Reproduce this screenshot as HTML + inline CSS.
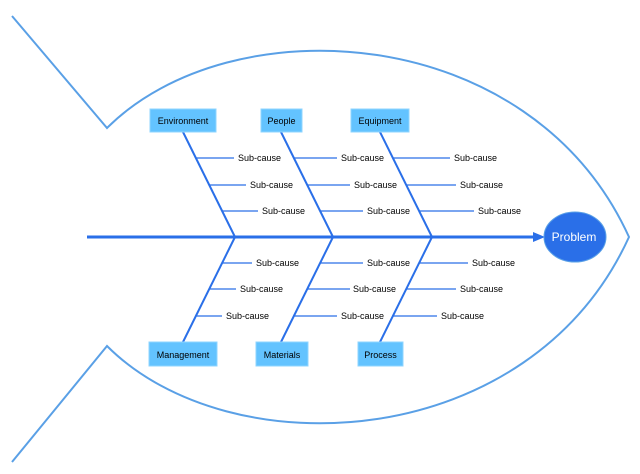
<!DOCTYPE html>
<html><head><meta charset="utf-8"><style>
html,body{margin:0;padding:0;background:#fff;width:640px;height:474px;overflow:hidden}
text{font-family:"Liberation Sans",sans-serif;font-size:9px;fill:#000}
</style></head><body>
<svg width="640" height="474" viewBox="0 0 640 474" xmlns="http://www.w3.org/2000/svg">
<g fill="none" stroke="#5aa0e6" stroke-width="2">
<path d="M12,16 L107,128 C230,5 530,20 629,237 C530,454 230,469 107,346 L12,462"/>
</g>
<g stroke="#2a6fe8" stroke-width="3" fill="none">
<line x1="87" y1="237" x2="535" y2="237"/>
</g>
<polygon points="533,232 545,237 533,242" fill="#2a6fe8"/>
<g stroke="#2a6fe8" stroke-width="2" fill="none">
<line x1="183" y1="132" x2="235" y2="237"/>
<line x1="281" y1="132" x2="333" y2="237"/>
<line x1="380" y1="132" x2="432" y2="237"/>
<line x1="235" y1="237" x2="183" y2="342"/>
<line x1="333" y1="237" x2="281" y2="342"/>
<line x1="432" y1="237" x2="380" y2="342"/>
</g>
<g stroke="#2a6fe8" stroke-width="1.2" fill="none">
<line x1="196" y1="158" x2="234" y2="158"/>
<line x1="209" y1="185" x2="246" y2="185"/>
<line x1="222" y1="211" x2="258" y2="211"/>
<line x1="294" y1="158" x2="337" y2="158"/>
<line x1="307" y1="185" x2="350" y2="185"/>
<line x1="320" y1="211" x2="363" y2="211"/>
<line x1="393" y1="158" x2="450" y2="158"/>
<line x1="406" y1="185" x2="456" y2="185"/>
<line x1="419" y1="211" x2="474" y2="211"/>
<line x1="222" y1="263" x2="252" y2="263"/>
<line x1="209" y1="289" x2="236" y2="289"/>
<line x1="196" y1="316" x2="222" y2="316"/>
<line x1="320" y1="263" x2="363" y2="263"/>
<line x1="307" y1="289" x2="350" y2="289"/>
<line x1="294" y1="316" x2="337" y2="316"/>
<line x1="419" y1="263" x2="468" y2="263"/>
<line x1="406" y1="289" x2="456" y2="289"/>
<line x1="393" y1="316" x2="437" y2="316"/>
</g>
<g>
<text x="238" y="161">Sub-cause</text>
<text x="250" y="188">Sub-cause</text>
<text x="262" y="214">Sub-cause</text>
<text x="341" y="161">Sub-cause</text>
<text x="354" y="188">Sub-cause</text>
<text x="367" y="214">Sub-cause</text>
<text x="454" y="161">Sub-cause</text>
<text x="460" y="188">Sub-cause</text>
<text x="478" y="214">Sub-cause</text>
<text x="256" y="266">Sub-cause</text>
<text x="240" y="292">Sub-cause</text>
<text x="226" y="319">Sub-cause</text>
<text x="367" y="266">Sub-cause</text>
<text x="353" y="292">Sub-cause</text>
<text x="341" y="319">Sub-cause</text>
<text x="472" y="266">Sub-cause</text>
<text x="460" y="292">Sub-cause</text>
<text x="441" y="319">Sub-cause</text>
</g>
<g fill="#63c3ff" stroke="#8fd4ff" stroke-width="1">
<rect x="150" y="109" width="66" height="23"/>
<rect x="261" y="109" width="41" height="23"/>
<rect x="351" y="109" width="58" height="23"/>
<rect x="149" y="342" width="68" height="24"/>
<rect x="256" y="342" width="52" height="24"/>
<rect x="358" y="342" width="45" height="24"/>
</g>
<g text-anchor="middle">
<text x="183" y="124">Environment</text>
<text x="281.5" y="124">People</text>
<text x="380" y="124">Equipment</text>
<text x="183" y="358">Management</text>
<text x="282" y="358">Materials</text>
<text x="380.5" y="358">Process</text>
</g>
<ellipse cx="575" cy="237" rx="31" ry="25" fill="#2a6fe8" stroke="#5aa0e6" stroke-width="1"/>
<text x="574" y="241" text-anchor="middle" style="fill:#fff;font-size:12px">Problem</text>
</svg>
</body></html>
